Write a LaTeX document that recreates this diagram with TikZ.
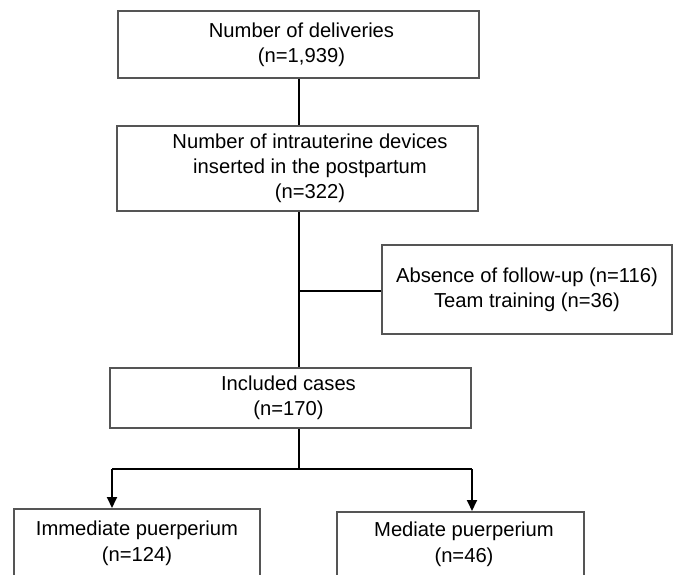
\documentclass[tikz,border=0pt]{standalone}
\usepackage{fontspec}
\setmainfont{Liberation Sans}
\usetikzlibrary{arrows.meta}
\definecolor{boxgray}{HTML}{555555}
\begin{document}
\begin{tikzpicture}[x=1pt,y=1pt,
  box/.style={draw=boxgray, line width=1.5pt, inner sep=0pt, align=center,
    font=\fontsize{20.2pt}{25pt}\selectfont},
  boxtext/.style={inner sep=0pt, align=center, font=\fontsize{20.2pt}{26pt}\selectfont},
  conn/.style={draw=black, line width=1.8pt},
  arr/.style={conn, -{Triangle[width=10pt,length=11pt]}}]
\path[use as bounding box, clip] (0,0) rectangle (677,574);
\fill[white] (0,0) rectangle (677,574);
% boxes
\node[box, minimum width=361pt, minimum height=67pt] (deliv) at (298.5,529.5)
  {\hspace*{6pt}Number of deliveries\\\hspace*{6pt}(n=1,939)};
\node[box, minimum width=361pt, minimum height=85pt] (iud) at (297.5,405.5)
  {\hspace*{25pt}Number of intrauterine devices\\\hspace*{25pt}inserted in the postpartum\\\hspace*{25pt}(n=322)};
\node[box, minimum width=290pt, minimum height=89pt] (excl) at (527,284.5)
  {Absence of follow-up (n=116)\\Team training (n=36)};
\node[box, minimum width=361pt, minimum height=60pt] (incl) at (290.5,176)
  {\hspace*{-4pt}Included cases\\\hspace*{-4pt}(n=170)};
\node[box, anchor=north, minimum width=246pt, minimum height=100pt] (imm) at (137,66) {};
\node[boxtext] (immtxt) at (137,30.5) {Immediate puerperium\\(n=124)};
\node[box, anchor=north, minimum width=247pt, minimum height=100pt] (med) at (460.5,63) {};
\node[boxtext] (medtxt) at (464,29.5) {Mediate puerperium\\(n=46)};
% junction coordinates
\coordinate (j1) at (299,283);
\coordinate (j2) at (299,105);
\coordinate (jl) at (112,105);
\coordinate (jr) at (472,105);
% connectors
\draw[conn] (299,0 |- deliv.south) -- (299,0 |- iud.north);
\draw[conn] (299,0 |- iud.south) -- (299,0 |- incl.north);
\draw[conn] (j1) -- (j1 -| excl.west);
\draw[conn] (299,0 |- incl.south) -- (j2);
\draw[conn] (jl) -- (jr);
\draw[arr] (jl) -- (jl |- imm.north);
\draw[arr] (jr) -- (jr |- med.north);
\end{tikzpicture}
\end{document}
